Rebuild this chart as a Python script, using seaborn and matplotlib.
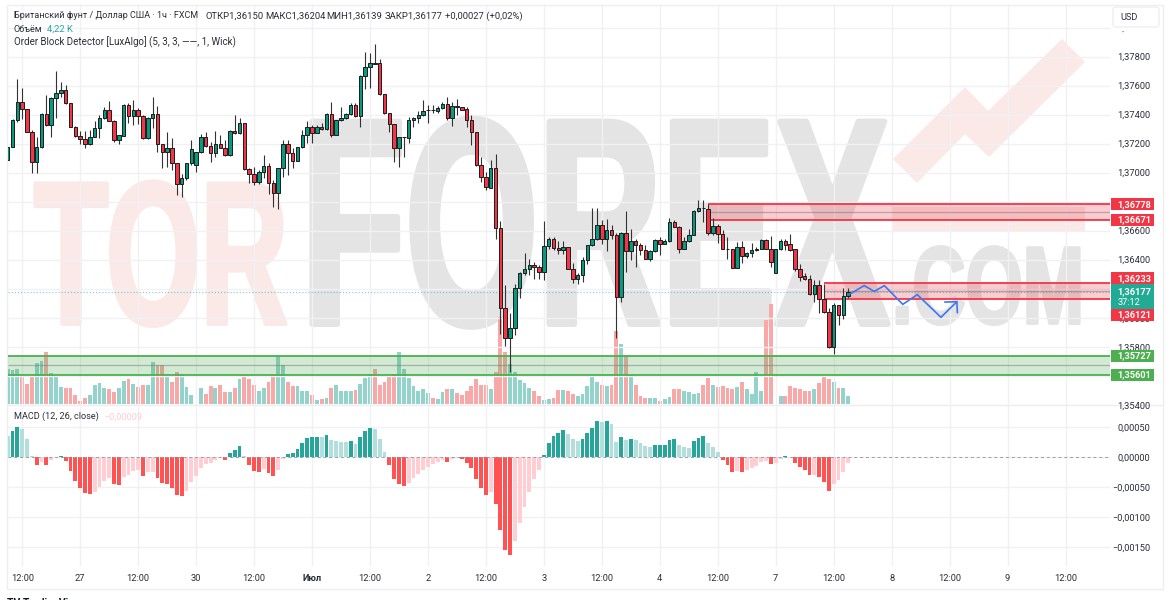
"""Recreate GBP/USD hourly chart screenshot with order blocks, volume and MACD."""

import matplotlib
matplotlib.use("Agg")
import matplotlib.patheffects as pe
import matplotlib.pyplot as plt
from matplotlib.patches import FancyBboxPatch, Polygon, Rectangle
from matplotlib.ticker import FuncFormatter
from matplotlib.transforms import Affine2D
import numpy as np
import pandas as pd
import seaborn as sns

opens = [
  1.37087, 1.37179, 1.37363, 1.37490, 1.37437, 1.37278, 1.37071, 1.37179, 1.37404, 1.37326,
  1.37512, 1.37547, 1.37570, 1.37478, 1.37317, 1.37253, 1.37230, 1.37195, 1.37243, 1.37305,
  1.37374, 1.37432, 1.37358, 1.37225, 1.37255, 1.37469, 1.37393, 1.37432, 1.37393, 1.37237,
  1.37374, 1.37404, 1.37197, 1.37144, 1.37168, 1.37069, 1.36919, 1.36961, 1.37064, 1.37053,
  1.37140, 1.37243, 1.37184, 1.37138, 1.37195, 1.37172, 1.37119, 1.37289, 1.37271, 1.37340,
  1.37023, 1.36988, 1.36935, 1.37004, 1.37048, 1.36931, 1.36857, 1.37029, 1.37195, 1.37138,
  1.37082, 1.37174, 1.37257, 1.37315, 1.37276, 1.37312, 1.37299, 1.37404, 1.37262, 1.37363,
  1.37374, 1.37404, 1.37464, 1.37391, 1.37667, 1.37731, 1.37754, 1.37754, 1.37540, 1.37409,
  1.37333, 1.37172, 1.37243, 1.37241, 1.37361, 1.37374, 1.37397, 1.37430, 1.37432, 1.37425,
  1.37446, 1.37473, 1.37377, 1.37457, 1.37450, 1.37437, 1.37363, 1.37278, 1.37050, 1.36972,
  1.36896, 1.37029, 1.36620, 1.36070, 1.35861, 1.35932, 1.36208, 1.36305, 1.36333, 1.36360,
  1.36351, 1.36314, 1.36494, 1.36546, 1.36484, 1.36466, 1.36487, 1.36339, 1.36270, 1.36291,
  1.36395, 1.36498, 1.36540, 1.36641, 1.36544, 1.36604, 1.36572, 1.36144, 1.36581, 1.36461,
  1.36526, 1.36503, 1.36466, 1.36408, 1.36461, 1.36535, 1.36510, 1.36528, 1.36657, 1.36627,
  1.36475, 1.36530, 1.36572, 1.36735, 1.36758, 1.36751, 1.36581, 1.36629, 1.36574, 1.36477,
  1.36473, 1.36346, 1.36489, 1.36425, 1.36443, 1.36468, 1.36477, 1.36533, 1.36477, 1.36310,
  1.36471, 1.36528, 1.36505, 1.36471, 1.36333, 1.36287, 1.36268, 1.36162, 1.36224, 1.36126,
  1.36041, 1.35799, 1.36086, 1.36018, 1.36150,
]
highs = [
  1.37179, 1.37368, 1.37644, 1.37581, 1.37437, 1.37294, 1.37248, 1.37409, 1.37535, 1.37524,
  1.37701, 1.37627, 1.37604, 1.37478, 1.37322, 1.37289, 1.37289, 1.37294, 1.37358, 1.37397,
  1.37450, 1.37496, 1.37363, 1.37260, 1.37473, 1.37478, 1.37501, 1.37443, 1.37397, 1.37386,
  1.37519, 1.37460, 1.37197, 1.37283, 1.37237, 1.37069, 1.36990, 1.37064, 1.37225, 1.37144,
  1.37266, 1.37283, 1.37213, 1.37289, 1.37260, 1.37225, 1.37294, 1.37397, 1.37374, 1.37340,
  1.37029, 1.37041, 1.37018, 1.37121, 1.37064, 1.36949, 1.37034, 1.37225, 1.37225, 1.37168,
  1.37179, 1.37294, 1.37358, 1.37328, 1.37328, 1.37340, 1.37409, 1.37485, 1.37363, 1.37455,
  1.37409, 1.37478, 1.37478, 1.37671, 1.37834, 1.37823, 1.37885, 1.37782, 1.37540, 1.37409,
  1.37333, 1.37243, 1.37248, 1.37381, 1.37381, 1.37425, 1.37501, 1.37466, 1.37466, 1.37460,
  1.37490, 1.37519, 1.37490, 1.37506, 1.37450, 1.37450, 1.37397, 1.37278, 1.37105, 1.37007,
  1.37087, 1.37126, 1.36668, 1.36224, 1.36029, 1.36231, 1.36316, 1.36443, 1.36408, 1.36385,
  1.36362, 1.36664, 1.36558, 1.36553, 1.36530, 1.36530, 1.36489, 1.36374, 1.36305, 1.36420,
  1.36500, 1.36756, 1.36758, 1.36673, 1.36678, 1.36639, 1.36581, 1.36592, 1.36737, 1.36611,
  1.36546, 1.36512, 1.36500, 1.36466, 1.36546, 1.36553, 1.36546, 1.36684, 1.36673, 1.36632,
  1.36553, 1.36615, 1.36742, 1.36811, 1.36811, 1.36781, 1.36689, 1.36645, 1.36604, 1.36558,
  1.36475, 1.36523, 1.36530, 1.36454, 1.36512, 1.36489, 1.36540, 1.36546, 1.36563, 1.36477,
  1.36546, 1.36540, 1.36574, 1.36471, 1.36369, 1.36305, 1.36293, 1.36259, 1.36259, 1.36231,
  1.36064, 1.36098, 1.36086, 1.36208, 1.36204,
]
lows = [
  1.37087, 1.37174, 1.37351, 1.37368, 1.37278, 1.37000, 1.37000, 1.37168, 1.37322, 1.37248,
  1.37374, 1.37524, 1.37473, 1.37317, 1.37243, 1.37197, 1.37168, 1.37191, 1.37243, 1.37237,
  1.37370, 1.37358, 1.37213, 1.37197, 1.37253, 1.37340, 1.37328, 1.37335, 1.37230, 1.37230,
  1.37305, 1.37144, 1.37029, 1.37036, 1.37018, 1.36845, 1.36829, 1.36949, 1.37053, 1.37007,
  1.37133, 1.37179, 1.37076, 1.37110, 1.37168, 1.37115, 1.37115, 1.37266, 1.37266, 1.37018,
  1.36931, 1.36915, 1.36919, 1.36961, 1.36852, 1.36765, 1.36747, 1.36972, 1.36983, 1.37029,
  1.37080, 1.37168, 1.37202, 1.37202, 1.37271, 1.37294, 1.37294, 1.37248, 1.37257, 1.37358,
  1.37368, 1.37397, 1.37386, 1.37317, 1.37575, 1.37581, 1.37752, 1.37535, 1.37404, 1.37283,
  1.37076, 1.37036, 1.37110, 1.37207, 1.37317, 1.37345, 1.37391, 1.37340, 1.37409, 1.37414,
  1.37437, 1.37363, 1.37322, 1.37397, 1.37432, 1.37317, 1.37191, 1.37046, 1.36937, 1.36880,
  1.36892, 1.36546, 1.35886, 1.35804, 1.35624, 1.35879, 1.36139, 1.36293, 1.36293, 1.36270,
  1.36270, 1.36259, 1.36477, 1.36466, 1.36438, 1.36438, 1.36335, 1.36241, 1.36231, 1.36247,
  1.36369, 1.36494, 1.36535, 1.36507, 1.36461, 1.36546, 1.35857, 1.36109, 1.36316, 1.36397,
  1.36351, 1.36431, 1.36402, 1.36392, 1.36454, 1.36431, 1.36505, 1.36523, 1.36622, 1.36448,
  1.36471, 1.36521, 1.36567, 1.36731, 1.36661, 1.36569, 1.36572, 1.36512, 1.36471, 1.36408,
  1.36342, 1.36342, 1.36374, 1.36411, 1.36420, 1.36461, 1.36471, 1.36471, 1.36351, 1.36305,
  1.36466, 1.36466, 1.36459, 1.36321, 1.36254, 1.36259, 1.36155, 1.36109, 1.36029, 1.36034,
  1.35794, 1.35753, 1.35949, 1.35994, 1.36139,
]
closes = [
  1.37179, 1.37363, 1.37490, 1.37437, 1.37278, 1.37071, 1.37179, 1.37404, 1.37326, 1.37517,
  1.37547, 1.37570, 1.37478, 1.37317, 1.37253, 1.37230, 1.37195, 1.37243, 1.37305, 1.37374,
  1.37432, 1.37358, 1.37225, 1.37260, 1.37469, 1.37393, 1.37432, 1.37393, 1.37237, 1.37374,
  1.37404, 1.37197, 1.37144, 1.37168, 1.37069, 1.36919, 1.36961, 1.37064, 1.37161, 1.37140,
  1.37243, 1.37184, 1.37138, 1.37195, 1.37172, 1.37119, 1.37289, 1.37271, 1.37340, 1.37023,
  1.36988, 1.36935, 1.37004, 1.37048, 1.36931, 1.36857, 1.37029, 1.37195, 1.37138, 1.37082,
  1.37174, 1.37260, 1.37315, 1.37276, 1.37312, 1.37299, 1.37404, 1.37262, 1.37363, 1.37374,
  1.37404, 1.37464, 1.37391, 1.37667, 1.37731, 1.37754, 1.37752, 1.37540, 1.37409, 1.37333,
  1.37172, 1.37243, 1.37248, 1.37363, 1.37374, 1.37397, 1.37425, 1.37432, 1.37431, 1.37446,
  1.37473, 1.37377, 1.37457, 1.37455, 1.37434, 1.37363, 1.37278, 1.37050, 1.36972, 1.36898,
  1.37029, 1.36620, 1.36070, 1.35861, 1.35932, 1.36208, 1.36305, 1.36333, 1.36362, 1.36351,
  1.36314, 1.36494, 1.36546, 1.36484, 1.36466, 1.36487, 1.36339, 1.36270, 1.36293, 1.36395,
  1.36498, 1.36540, 1.36641, 1.36544, 1.36604, 1.36572, 1.36144, 1.36581, 1.36461, 1.36526,
  1.36503, 1.36466, 1.36408, 1.36461, 1.36535, 1.36510, 1.36528, 1.36657, 1.36627, 1.36475,
  1.36530, 1.36572, 1.36735, 1.36756, 1.36756, 1.36581, 1.36629, 1.36574, 1.36475, 1.36475,
  1.36346, 1.36489, 1.36425, 1.36443, 1.36468, 1.36477, 1.36533, 1.36477, 1.36381, 1.36471,
  1.36528, 1.36500, 1.36466, 1.36333, 1.36282, 1.36268, 1.36162, 1.36224, 1.36126, 1.36041,
  1.35799, 1.36086, 1.36018, 1.36151, 1.36177,
]
# volume in thousands
volumes = [
  17.7, 17.4, 17.9, 14.4, 10.3, 14.4, 21.1, 22.0, 26.5, 16.1,
  14.4, 8.8, 8.3, 8.1, 4.6, 1.9, 3.4, 4.9, 9.8, 10.8,
  8.1, 7.6, 6.3, 8.5, 12.0, 12.8, 10.3, 8.8, 10.0, 10.0,
  21.3, 19.8, 19.8, 14.5, 11.3, 16.4, 15.2, 9.0, 4.9, 0.3,
  8.1, 5.4, 9.3, 8.5, 10.0, 6.3, 6.3, 8.1, 12.7, 14.9,
  13.0, 10.0, 6.9, 8.5, 11.3, 14.9, 24.5, 19.8, 11.2, 9.3,
  9.5, 6.9, 6.6, 4.9, 2.4, 2.7, 3.0, 8.5, 10.0, 6.8,
  6.8, 6.9, 7.3, 10.3, 13.5, 15.2, 17.7, 9.6, 11.2, 14.0,
  15.4, 26.5, 17.7, 13.5, 9.3, 6.6, 7.8, 5.6, 3.4, 2.7,
  6.4, 7.8, 7.6, 5.7, 4.7, 6.8, 9.5, 13.0, 10.0, 10.0,
  7.6, 16.2, 44.3, 26.4, 20.4, 16.2, 12.3, 10.6, 8.1, 6.8,
  4.2, 2.2, 2.5, 3.0, 7.3, 7.3, 6.9, 5.2, 4.2, 5.2,
  9.5, 13.9, 11.2, 10.0, 9.3, 9.6, 37.2, 30.6, 25.0, 15.0,
  9.6, 4.2, 3.4, 3.4, 3.0, 1.5, 2.7, 3.7, 7.6, 7.6,
  6.8, 6.3, 5.4, 5.7, 9.6, 13.5, 9.6, 8.8, 9.1, 8.3,
  7.9, 8.8, 11.2, 7.6, 5.2, 16.2, 6.8, 42.8, 50.9, 0.3,
  4.2, 4.2, 9.1, 8.5, 7.9, 6.8, 6.8, 7.6, 10.8, 14.4,
  12.7, 11.2, 8.3, 8.3, 4.22,
]
# MACD histogram in units of 0.00001
macd_hist = [
  35.6, 43.4, 51.2, 47.3, 30.6, 2.8, -12.8, -7.2, -12.8, -4.4,
  0.6, 2.8, -5.6, -22.2, -39.5, -50.6, -58.9, -61.7, -57.3, -49.5,
  -40.0, -35.0, -45.0, -46.7, -32.2, -28.9, -23.4, -21.7, -31.1, -24.5,
  -24.4, -33.9, -42.3, -44.5, -50.6, -62.3, -64.5, -55.6, -40.6, -31.1,
  -17.8, -11.1, -10.0, -4.4, -1.7, -3.9, 6.7, 12.2, 19.5, 1.7,
  -12.8, -22.8, -23.9, -20.0, -25.6, -30.6, -21.1, -3.3, 5.6, 7.8,
  13.9, 23.4, 31.7, 33.4, 34.5, 33.4, 37.3, 28.4, 27.2, 26.1,
  25.6, 27.2, 22.2, 34.5, 43.9, 48.9, 47.3, 30.6, 8.9, -12.8,
  -35.6, -44.5, -47.8, -42.3, -35.0, -27.2, -21.1, -15.6, -11.7, -8.3,
  -4.4, -7.2, -2.8, -1.7, -3.3, -8.9, -17.8, -36.1, -51.7, -62.8,
  -57.8, -78.4, -121.8, -154.6, -162.4, -139.6, -110.1, -82.3, -57.3, -36.1,
  -21.1, 3.9, 24.5, 35.6, 41.1, 46.1, 38.4, 30.6, 27.2, 30.6,
  41.1, 48.9, 60.0, 58.9, 60.0, 56.2, 25.6, 33.4, 29.5, 30.6,
  29.5, 23.9, 18.3, 16.7, 20.6, 20.7, 20.8, 28.4, 30.6, 20.6,
  17.8, 16.1, 27.2, 32.2, 35.0, 23.4, 16.7, 8.9, -4.4, -12.2,
  -23.9, -22.8, -23.9, -21.7, -18.3, -14.5, -7.8, -6.7, -10.6, -8.9,
  -2.2, 1.7, 1.1, -8.9, -16.7, -21.1, -30.0, -29.9, -33.4, -40.6,
  -55.6, -44.5, -37.3, -23.9, -9.0,
]

zone_tops = [1.36784, 1.36241, 1.35738]
zone_bottoms = [1.36676, 1.36131, 1.35607]
zone_starts = [145, 169, 0]
zone_colors = ["#f23645", "#f23645", "#4caf50"]

# hand drawn forecast line: bar number, price
path_bars = [174.4, 177.3, 179.4, 181.5, 185.3, 188.3, 193.2, 196.5]
path_prices = [1.36164, 1.36221, 1.36182, 1.36221, 1.36092, 1.36159, 1.36003, 1.36110]
head_bars = [194.0, 196.5, 196.6]
head_prices = [1.36108, 1.36110, 1.36034]

price_ticks = [1.354, 1.356, 1.358, 1.360, 1.362, 1.364, 1.366, 1.368, 1.370, 1.372, 1.374, 1.376, 1.378, 1.380]
macd_ticks = [0.0005, 0.0, -0.0005, -0.001, -0.0015]
time_ticks = [3, 15, 27, 39, 51, 63, 75, 87, 99, 111, 123, 135, 147, 159, 171, 183, 195, 207, 219]
time_labels = ["12:00", "27", "12:00", "30", "12:00", "Июл", "12:00", "2", "12:00", "3",
               "12:00", "4", "12:00", "7", "12:00", "8", "12:00", "9", "12:00"]

price_tags = ["1,36778", "1,36671", "1,36233", "1,36121", "1,35727", "1,35601"]
tag_rows = [204.3, 220.0, 278.3, 315.0, 355.7, 374.7]
tag_colors = ["#f23645", "#f23645", "#f23645", "#f23645", "#4caf50", "#4caf50"]

W, H = 1170, 600
GREEN, RED = "#089981", "#f23645"
TEXT = "#2a2e39"
GRID = "#f0f1f4"
FS = 6.6


class Squeeze(pe.AbstractPathEffect):
  """Draw a text narrower than its font and fatter, the logo letters are condensed."""

  def __init__(self, sx, x0, stroke):
    super().__init__()
    self.sx, self.x0, self.stroke = sx, x0, stroke

  def draw_path(self, renderer, gc, tpath, affine, rgbFace=None):
    squeeze = Affine2D().translate(-self.x0, 0).scale(self.sx, 1).translate(self.x0, 0)
    gc0 = renderer.new_gc()
    gc0.copy_properties(gc)
    gc0.set_foreground(rgbFace)
    gc0.set_linewidth(self.stroke * 0.72)
    renderer.draw_path(gc0, tpath, affine + squeeze, rgbFace)
    gc0.restore()


def pane(top, bottom, left=8, right=1110):
  return fig.add_axes([left / W, 1 - bottom / H, (right - left) / W, (bottom - top) / H])


def logo_word(ax, word, x0, x1, cap_top, baseline, color, stroke):
  size = (baseline - cap_top - stroke) / 0.69 * 0.72
  t = ax.text(x0, baseline - stroke / 2, word, fontsize=size, color=color, ha="left", va="baseline",
              family="Liberation Sans", weight="bold")
  width = t.get_window_extent(fig.canvas.get_renderer()).width
  t.set_path_effects([Squeeze((x1 - x0) / width, x0, stroke)])


sns.set_theme(style="whitegrid", rc={"grid.color": GRID, "grid.linewidth": 1.0})
plt.rcParams["font.family"] = ["Roboto", "DejaVu Sans"]

fig = plt.figure(figsize=(W / 100, H / 100), dpi=100, facecolor="white")

# background layer in pixel coordinates: frame and watermark
ax_bg = fig.add_axes([0, 0, 1, 1], zorder=0)
ax_bg.set_xlim(0, W)
ax_bg.set_ylim(H, 0)
ax_bg.axis("off")
ax_bg.add_patch(Rectangle((7, 4.7), 1155.7, 584.3, fill=False, ec="#eceef2", lw=1))
ax_bg.plot([7, 1162.7], [405, 405], color="#eceef2", lw=1)
logo_word(ax_bg, "TOR", 34, 288, 181, 326, "#fbe9e7", 4)
logo_word(ax_bg, "FOREX", 301, 889, 118, 327, "#e4e4e4", 6)
logo_word(ax_bg, ".COM", 892, 1084, 246, 325, "#e4e4e4", 3)
ax_bg.add_patch(Rectangle((893, 207), 192, 24, color="#fbe9e7", lw=0))
ax_bg.add_patch(Polygon([(893, 159), (965, 87), (988, 111), (1062, 39), (1085, 62),
                         (989, 157), (965, 134), (917, 183)], color="#fbe9e7", lw=0))

bars = np.arange(len(opens))
o, h, l, c = map(np.array, (opens, highs, lows, closes))
up = c >= o
xlim = (0.06, 228.2)

# volume sits under the candles in the same pane
ax_vol = pane(4, 404.3)
ax_vol.set_zorder(1)
ax_vol.patch.set_alpha(0)
vol_df = pd.DataFrame({"bar": bars, "volume": volumes, "shade": np.where(up, "up", "down")})
sns.barplot(data=vol_df, x="bar", y="volume", hue="shade", palette={"up": "#92d3cc", "down": "#f8a9a7"},
            native_scale=True, dodge=False, width=0.8, linewidth=0, saturation=1, errorbar=None,
            legend=False, ax=ax_vol)
ax_vol.set_xlim(xlim)
ax_vol.set_ylim(0, 203)
ax_vol.axis("off")

ax = pane(4, 405)
ax.set_zorder(2)
ax.patch.set_alpha(0)
ax.set_xlim(xlim)
ax.set_ylim(1.35398, 1.38163)
sns.despine(ax=ax, left=True, bottom=True)
ax.yaxis.tick_right()
ax.set_yticks(price_ticks)
ax.yaxis.set_major_formatter(FuncFormatter(lambda v, pos: f"{v:.5f}".replace(".", ",")))
ax.tick_params(axis="y", length=0, pad=5.5, labelsize=FS + 0.1, labelcolor=TEXT)
ax.set_xticks(time_ticks)
ax.tick_params(axis="x", length=0, labelbottom=False)
ax.grid(True)

for top, bottom, start, color in zip(zone_tops, zone_bottoms, zone_starts, zone_colors):
  ax.fill_between([start, xlim[1]], bottom, top, color=color, alpha=0.25, lw=0, zorder=2)
  ax.hlines([top, bottom], start, xlim[1], color=color, lw=1.3, zorder=2.2)
  ax.hlines((top + bottom) / 2, start, xlim[1], color="#777777", lw=0.9, alpha=0.5, zorder=2.1)

ax.axhline(closes[-1], color="#22ab94", lw=0.9, ls=(0, (1, 1.5)), alpha=0.5, zorder=2.3)

ax.vlines(bars, l, h, color="#333333", lw=0.8, zorder=3)
ax.bar(bars, np.abs(c - o), bottom=np.minimum(o, c), width=0.72, color=np.where(up, GREEN, RED),
       edgecolor="#1c1c1c", linewidth=0.7, zorder=3.1)

ax.plot(path_bars, path_prices, color="#3a78f2", lw=1.2, zorder=4, solid_joinstyle="miter")
ax.plot(head_bars, head_prices, color="#3a78f2", lw=1.2, zorder=4, solid_joinstyle="miter")

# MACD pane
ax_macd = pane(405, 566)
ax_macd.set_zorder(2)
ax_macd.patch.set_alpha(0)
hist = np.array(macd_hist) * 1e-5
prev = np.r_[np.inf, hist[:-1]]
shade = np.where(hist >= 0, np.where(hist > prev, "grow_above", "fall_above"),
                 np.where(hist > prev, "grow_below", "fall_below"))
macd_df = pd.DataFrame({"bar": bars, "hist": hist, "shade": shade})
macd_palette = {"grow_above": "#26a69a", "fall_above": "#b2dfdb", "grow_below": "#ffcdd2", "fall_below": "#ff5252"}
sns.barplot(data=macd_df, x="bar", y="hist", hue="shade", palette=macd_palette, native_scale=True,
            dodge=False, width=0.8, linewidth=0, saturation=1, errorbar=None, legend=False, ax=ax_macd)
ax_macd.axhline(0, color="#9a9ea8", lw=0.7, ls=(0, (3, 3)), zorder=1)
ax_macd.set_xlim(xlim)
ax_macd.set_ylim(-0.001812, 0.000872)
ax_macd.set_xlabel("")
ax_macd.set_ylabel("")
sns.despine(ax=ax_macd, left=True, bottom=True)
ax_macd.yaxis.tick_right()
ax_macd.set_yticks(macd_ticks)
ax_macd.set_yticklabels([f"{v:.5f}".replace(".", ",").replace("-", "\u2212") for v in macd_ticks],
                        ha="right")
ax_macd.tick_params(axis="y", length=0, pad=28.8, labelsize=FS + 0.1, labelcolor=TEXT)
ax_macd.set_xticks(time_ticks)
ax_macd.set_xticklabels(time_labels)
ax_macd.tick_params(axis="x", length=0, pad=5.5, labelsize=FS + 0.1, labelcolor=TEXT)
ax_macd.get_xticklabels()[time_labels.index("Июл")].set_fontweight("bold")
ax_macd.grid(True)
ax_macd.set_axisbelow(True)

# top layer: header texts, price tags
ax_top = fig.add_axes([0, 0, 1, 1], zorder=5)
ax_top.set_xlim(0, W)
ax_top.set_ylim(H, 0)
ax_top.axis("off")

ax_top.text(13.5, 16, "Британский фунт / Доллар США · 1ч · FXCM", fontsize=FS - 0.1, color=TEXT, va="center")
for x, s in [(205, "ОТКР1,36150"), (265, "МАКС1,36204"), (326, "МИН1,36139"), (385, "ЗАКР1,36177"),
             (445, "+0,00027 (+0,02%)")]:
  ax_top.text(x, 16, s, fontsize=FS + 0.2, color=TEXT, va="center")
ax_top.text(13.5, 29, "Объём", fontsize=FS, color=TEXT, va="center")
ax_top.text(47, 29, "4,22 K", fontsize=FS + 0.2, color="#26a69a", va="center")
ax_top.text(13.5, 42, "Order Block Detector [LuxAlgo] (5, 3, 3, ——, 1, Wick)", fontsize=FS + 0.4, color=TEXT, va="center")
ax_top.text(13.5, 416.7, "MACD (12, 26, close)", fontsize=FS, color=TEXT, va="center")
ax_top.text(104, 416.7, "\u22120,00009", fontsize=FS, color="#ffcdd2", va="center")

# the USD button hides the top price label
ax_top.add_patch(Rectangle((1112, 6), 49, 24.5, color="white", lw=0))
ax_top.add_patch(FancyBboxPatch((1115, 9), 42, 16, boxstyle="round,pad=2,rounding_size=3",
                                fc="white", ec="#eceef2", lw=1))
ax_top.text(1120, 17.5, "USD", fontsize=FS, color=TEXT, va="center")

for s, y, color in zip(price_tags, tag_rows, tag_colors):
  ax_top.add_patch(Rectangle((1111, y - 6), 43, 12, color=color, lw=0))
  ax_top.text(1117.7, y, s, fontsize=FS, color="white", va="center", weight="bold")
ax_top.add_patch(Rectangle((1111, 284.3), 43, 25, color="#22ab94", lw=0))
ax_top.text(1117.7, 291.3, "1,36177", fontsize=FS, color="white", va="center", weight="bold")
ax_top.text(1117.7, 302.7, "37:12", fontsize=FS, color="white", va="center")

ax_top.text(7, 597.5, "TV TradingView", fontsize=7.5, color="#131722", weight="bold", va="top")

fig.savefig("out.png", dpi=100, facecolor="white")
